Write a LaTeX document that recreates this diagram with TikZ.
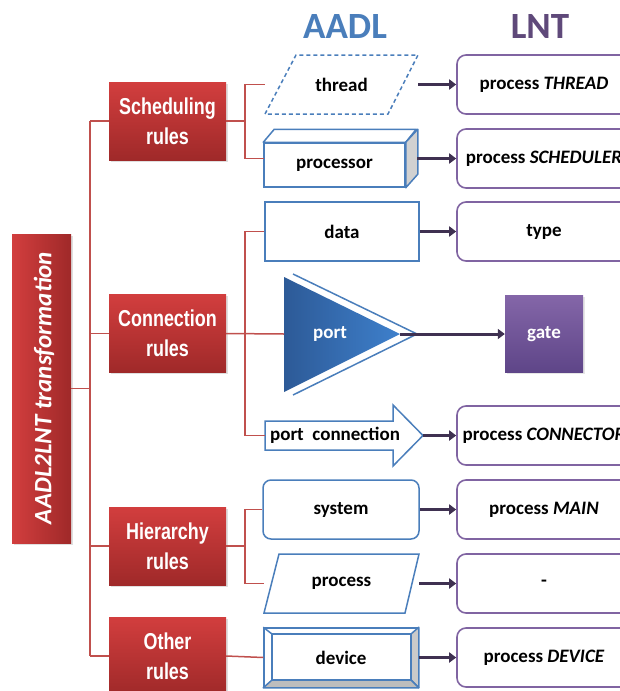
\documentclass[tikz,border=0pt]{standalone}
\usepackage{fontspec}
\setmainfont{Carlito}
\newfontfamily\catfont[FakeStretch=0.78]{Liberation Sans}
\usetikzlibrary{arrows.meta,shadows}

\definecolor{aadlblue}{HTML}{4A7EBB}
\definecolor{lnttitle}{HTML}{5F497A}
\definecolor{lntbox}{HTML}{8064A2}
\definecolor{convcol}{HTML}{3F3151}
\definecolor{linered}{HTML}{C0504D}
\definecolor{redtop}{HTML}{D23E3E}
\definecolor{redbot}{HTML}{9F2929}
\definecolor{portdark}{HTML}{2D5A97}
\definecolor{portlight}{HTML}{3E80CC}
\definecolor{gatetop}{HTML}{8466A8}
\definecolor{gatebot}{HTML}{5E4588}
\definecolor{bevel}{HTML}{BDBDBD}

\begin{document}
\begin{tikzpicture}[x=1pt,y=-1pt,
  wire/.style={draw=linered, line width=1.5pt},
  ablue/.style={draw=aadlblue, line width=1.5pt},
  itemfont/.style={font=\bfseries\fontsize{19}{22}\selectfont},
  abox/.style={ablue, fill=white, itemfont, minimum width=154pt, minimum height=59pt, inner sep=0pt},
  aitem/.style={itemfont, inner sep=0pt},
  lnt/.style={draw=lntbox, line width=1.6pt, rounded corners=9pt, fill=white, itemfont,
    minimum width=174pt, minimum height=59pt, inner sep=0pt},
  conv/.style={draw=convcol, line width=3pt, -{Triangle[length=7pt,width=10pt]}},
  cat/.style={minimum width=117pt, minimum height=78pt, inner sep=0pt, top color=redtop,
    bottom color=redbot, text=white, align=center,
    font=\catfont\bfseries\fontsize{23}{30}\selectfont,
    drop shadow={shadow xshift=1.5pt, shadow yshift=-1.5pt, opacity=0.25}},
  heading/.style={font=\bfseries\fontsize{37}{40}\selectfont, inner sep=0pt}]

\useasboundingbox (0,0) rectangle (620,691);
\clip (0,0) rectangle (620,691);

% column headings
\node[heading, text=aadlblue] (t-aadl) at (345,27) {AADL};
\node[heading, text=lnttitle] (t-lnt) at (540,27) {LNT};

% root and rule categories
\node[minimum width=59pt, minimum height=309pt, inner sep=0pt, left color=redtop,
  right color=redbot, drop shadow={shadow xshift=1.5pt, shadow yshift=-1.5pt, opacity=0.25}]
  (root) at (41.5,388.5) {};
\node[rotate=90, text=white, inner sep=0pt, font=\bfseries\itshape\fontsize{25}{28}\selectfont]
  (root-label) at (44,388) {AADL2LNT transformation};
\node[cat] (sched) at (167.5,121) {Scheduling\\rules};
\node[cat] (conn) at (167.5,333.5) {Connection\\rules};
\node[cat] (hier) at (167.5,546) {Hierarchy\\rules};
\node[cat] (other) at (167.5,656) {Other\\rules};

% trunk
\coordinate (trunk-top) at (90,121);
\coordinate (trunk-bot) at (90,656);
\draw[wire] (trunk-top) -- (trunk-bot);
\draw[wire] (root.east) -- (root.east -| trunk-top);
\foreach \c in {sched,conn,hier,other}
  \draw[wire] (\c.west) -- (\c.west -| trunk-top);

% ---- scheduling: thread, processor
\draw[ablue, dash pattern=on 4pt off 3pt] (265,114) -- (296,55) -- (418,55) -- (388,114) -- cycle;
\node[aitem, minimum width=153pt, minimum height=59pt] (a-thread) at (341.5,84.5) {thread};

\node[abox, minimum width=141pt, minimum height=44pt] (a-proc) at (334.5,165) {processor};
\draw[ablue, fill=white, line join=round] (a-proc.north west) -- ++(11,-13) -- ++(142,0) -- (a-proc.north east) -- cycle;
\draw[ablue, fill=bevel!70, line join=round] (a-proc.north east) -- ++(12,-13) -- ++(0,45) -- (a-proc.south east) -- cycle;
\coordinate (a-proc-in) at (264,158.5);
\coordinate (a-proc-out) at (417,158.5);

\coordinate (sb) at (245,121);
\draw[wire] (sched.east) -- (sb);
\draw[wire] (a-thread.west) -| (sb) |- (a-proc-in);

% ---- connection: data, port, port connection
\node[abox] (a-data) at (342,231.5) {data};

\shade[left color=portdark, right color=portlight] (284,277) -- (400,334) -- (284,392) -- cycle;
\draw[ablue] (293,274) -- (417,334) -- (293,395);
\node[aitem, text=white] (a-port) at (330,334) {port};
\coordinate (a-port-base) at (284,334);
\coordinate (a-port-tip) at (400,334);

\draw[ablue, fill=white, line join=miter] (265,421) -- (393,421) -- (393,405) -- (423,435.5)
  -- (393,466) -- (393,450) -- (265,450) -- cycle;
\node[aitem] (a-pconn) at (335,435.5) {port\ \ connection};
\coordinate (a-pconn-tail) at (265,435.5);
\coordinate (a-pconn-tip) at (423,435.5);

\coordinate (cb) at (245,334);
\draw[wire] (conn.east) -- (a-port-base);
\draw[wire] (a-data.west) -| (cb) |- (a-pconn-tail);

% ---- hierarchy: system, process
\node[abox, rounded corners=8pt, minimum width=156pt] (a-system) at (341,509.5) {system};
\draw[ablue] (264,613) -- (279,554) -- (419,554) -- (405,613) -- cycle;
\node[aitem, minimum width=155pt, minimum height=59pt] (a-process) at (341.5,583.5) {process};

\coordinate (hb) at (245,546);
\draw[wire] (hier.east) -- (hb);
\draw[wire] (a-system.west) -| (hb) |- (a-process.west);

% ---- other: device
\node[abox] (a-device) at (341,657.5) {device};
\draw[ablue, fill=bevel!80, line join=round] (a-device.north east) -- (411,634) -- (411,680) -- (a-device.south east) -- cycle;
\draw[ablue, fill=bevel, line join=round] (a-device.south west) -- (272,680) -- (411,680) -- (a-device.south east) -- cycle;
\draw[ablue] (272,634) rectangle (411,680);
\draw[ablue] (a-device.north west) -- (272,634);
\draw[wire] (other.east) -- (a-device.west);

% ---- LNT counterparts
\node[lnt] (l-thread) at (544,84.5) {process \textit{THREAD}};
\node[lnt] (l-sched) at (544,158.5) {process \textit{SCHEDULER}};
\node[lnt] (l-type) at (544,231.5) {type};
\node[minimum width=78pt, minimum height=77pt, inner sep=0pt, top color=gatetop, bottom color=gatebot,
  text=white, itemfont, drop shadow={shadow xshift=1.5pt, shadow yshift=-1.5pt, opacity=0.2}]
  (gate) at (544,334) {gate};
\node[lnt] (l-conn) at (544,435.5) {process \textit{CONNECTOR}};
\node[lnt] (l-main) at (544,509.5) {process \textit{MAIN}};
\node[lnt] (l-dash) at (544,583.5) {-};
\node[lnt] (l-device) at (544,657.5) {process \textit{DEVICE}};

% ---- translation arrows
\draw[conv] (a-thread.east) -- (l-thread.west);
\draw[conv] (a-proc-out) -- (l-sched.west);
\draw[conv] (a-data.east) -- (l-type.west);
\draw[conv] (a-port-tip) -- (gate.west);
\draw[conv] (a-pconn-tip) -- (l-conn.west);
\draw[conv] (a-system.east) -- (l-main.west);
\draw[conv] (a-process.east) -- (l-dash.west);
\draw[conv] (a-device.east) -- (l-device.west);
\end{tikzpicture}
\end{document}
